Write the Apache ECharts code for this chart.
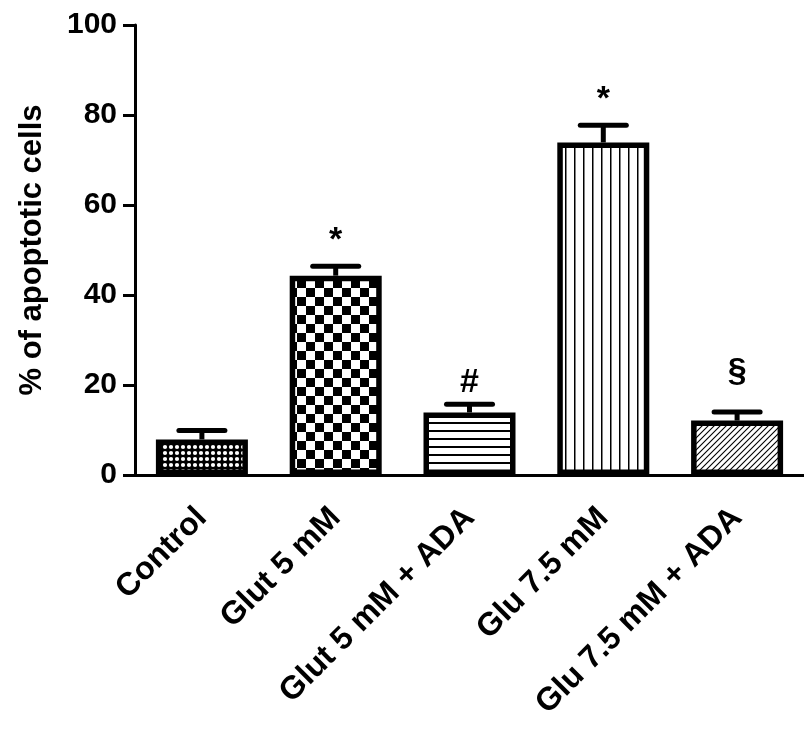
<!DOCTYPE html>
<html><head><meta charset="utf-8">
<script src="https://cdn.jsdelivr.net/npm/echarts@6/dist/echarts.min.js"></script>
<style>html,body{margin:0;padding:0;background:#fff}#c{width:804px;height:731px}</style>
</head><body><div id="c"></div>
<script>
const categories = ['Control', 'Glut 5 mM', 'Glut 5 mM + ADA', 'Glu 7.5 mM', 'Glu 7.5 mM + ADA'];
const means = [7.9, 44.3, 13.9, 73.9, 12.1];
const errors = [2.0, 2.1, 1.8, 3.8, 1.9];
const marks = ['', '*', '#', '*', '§'];
const yTicks = [0, 20, 40, 60, 80, 100];

function mk(w, h, draw) {
  const c = document.createElement('canvas');
  c.width = w; c.height = h;
  const g = c.getContext('2d');
  draw(g, w, h);
  return c;
}
const patterns = [
  mk(6, 6, (g) => { g.fillStyle = '#000'; g.fillRect(0, 0, 6, 6); g.fillStyle = '#fff'; g.beginPath(); g.arc(3, 3, 2.1, 0, Math.PI * 2); g.fill(); }),
  mk(18, 18, (g) => { g.fillStyle = '#fff'; g.fillRect(0, 0, 18, 18); g.fillStyle = '#000'; g.fillRect(0, 0, 9, 9); g.fillRect(9, 9, 9, 9); }),
  mk(8, 8, (g) => { g.fillStyle = '#fff'; g.fillRect(0, 0, 8, 8); g.fillStyle = '#000'; g.fillRect(0, 6, 8, 2); }),
  mk(9, 9, (g) => { g.fillStyle = '#fff'; g.fillRect(0, 0, 9, 9); g.fillStyle = '#000'; g.fillRect(7, 0, 1.5, 9); }),
  mk(6, 6, (g) => { g.fillStyle = '#fff'; g.fillRect(0, 0, 6, 6); g.strokeStyle = '#000'; g.lineWidth = 1.1;
    g.beginPath(); g.moveTo(0, 6); g.lineTo(6, 0); g.moveTo(-1, 1); g.lineTo(1, -1); g.moveTo(5, 7); g.lineTo(7, 5); g.stroke(); })
];

const chart = echarts.init(document.getElementById('c'), null, { renderer: 'canvas' });
const FF = '"Liberation Sans", Arial, sans-serif';
const markShift = { '*': 3, '#': 7, '§': -11 };
chart.setOption({
  animation: false,
  backgroundColor: '#fff',
  grid: { left: 135, top: 25, width: 675, height: 450, containLabel: false },
  xAxis: {
    type: 'category', data: categories,
    axisLine: { lineStyle: { color: '#000', width: 3 } },
    axisTick: { alignWithLabel: true, length: 20, lineStyle: { color: '#000', width: 3 } },
    axisLabel: { rotate: 45, color: '#000', fontSize: 32, fontWeight: 'bold', fontFamily: FF, margin: 38, interval: 0 }
  },
  yAxis: {
    type: 'value', min: yTicks[0], max: yTicks[yTicks.length - 1], interval: 20,
    name: '% of apoptotic cells', nameLocation: 'middle', nameGap: 87,
    nameTextStyle: { color: '#000', fontSize: 31, fontWeight: 'bold', fontFamily: FF },
    splitLine: { show: false },
    axisLine: { show: true, lineStyle: { color: '#000', width: 3 } },
    axisTick: { show: true, length: 12, lineStyle: { color: '#000', width: 3 } },
    axisLabel: { color: '#000', fontSize: 30, fontWeight: 'bold', fontFamily: FF, margin: 18 }
  },
  series: [
    {
      type: 'bar', barWidth: 92,
      data: means.map((v, i) => ({ value: v, itemStyle: { color: { image: patterns[i], repeat: 'repeat' } } })),
      itemStyle: { borderColor: '#000', borderWidth: 5.5 }
    },
    {
      type: 'custom', z: 5,
      data: means.map((v, i) => [i, v, errors[i]]),
      renderItem: function (params, api) {
        const p = api.coord([api.value(0), api.value(1)]);
        const t = api.coord([api.value(0), api.value(1) + api.value(2)]);
        const m = marks[params.dataIndex];
        return {
          type: 'group', children: [
            { type: 'line', shape: { x1: p[0], y1: p[1], x2: p[0], y2: t[1] }, style: { stroke: '#000', lineWidth: 5 } },
            { type: 'line', shape: { x1: p[0] - 23, y1: t[1], x2: p[0] + 23, y2: t[1] }, style: { stroke: '#000', lineWidth: 5, lineCap: 'round' } },
            { type: 'text', x: p[0], y: t[1] - 12 + (markShift[m] || 0), style: { text: m, fontSize: 34, fontWeight: 'bold', fontFamily: FF, align: 'center', verticalAlign: 'bottom', fill: '#000' } }
          ]
        };
      }
    }
  ]
});
</script>
</body></html>
